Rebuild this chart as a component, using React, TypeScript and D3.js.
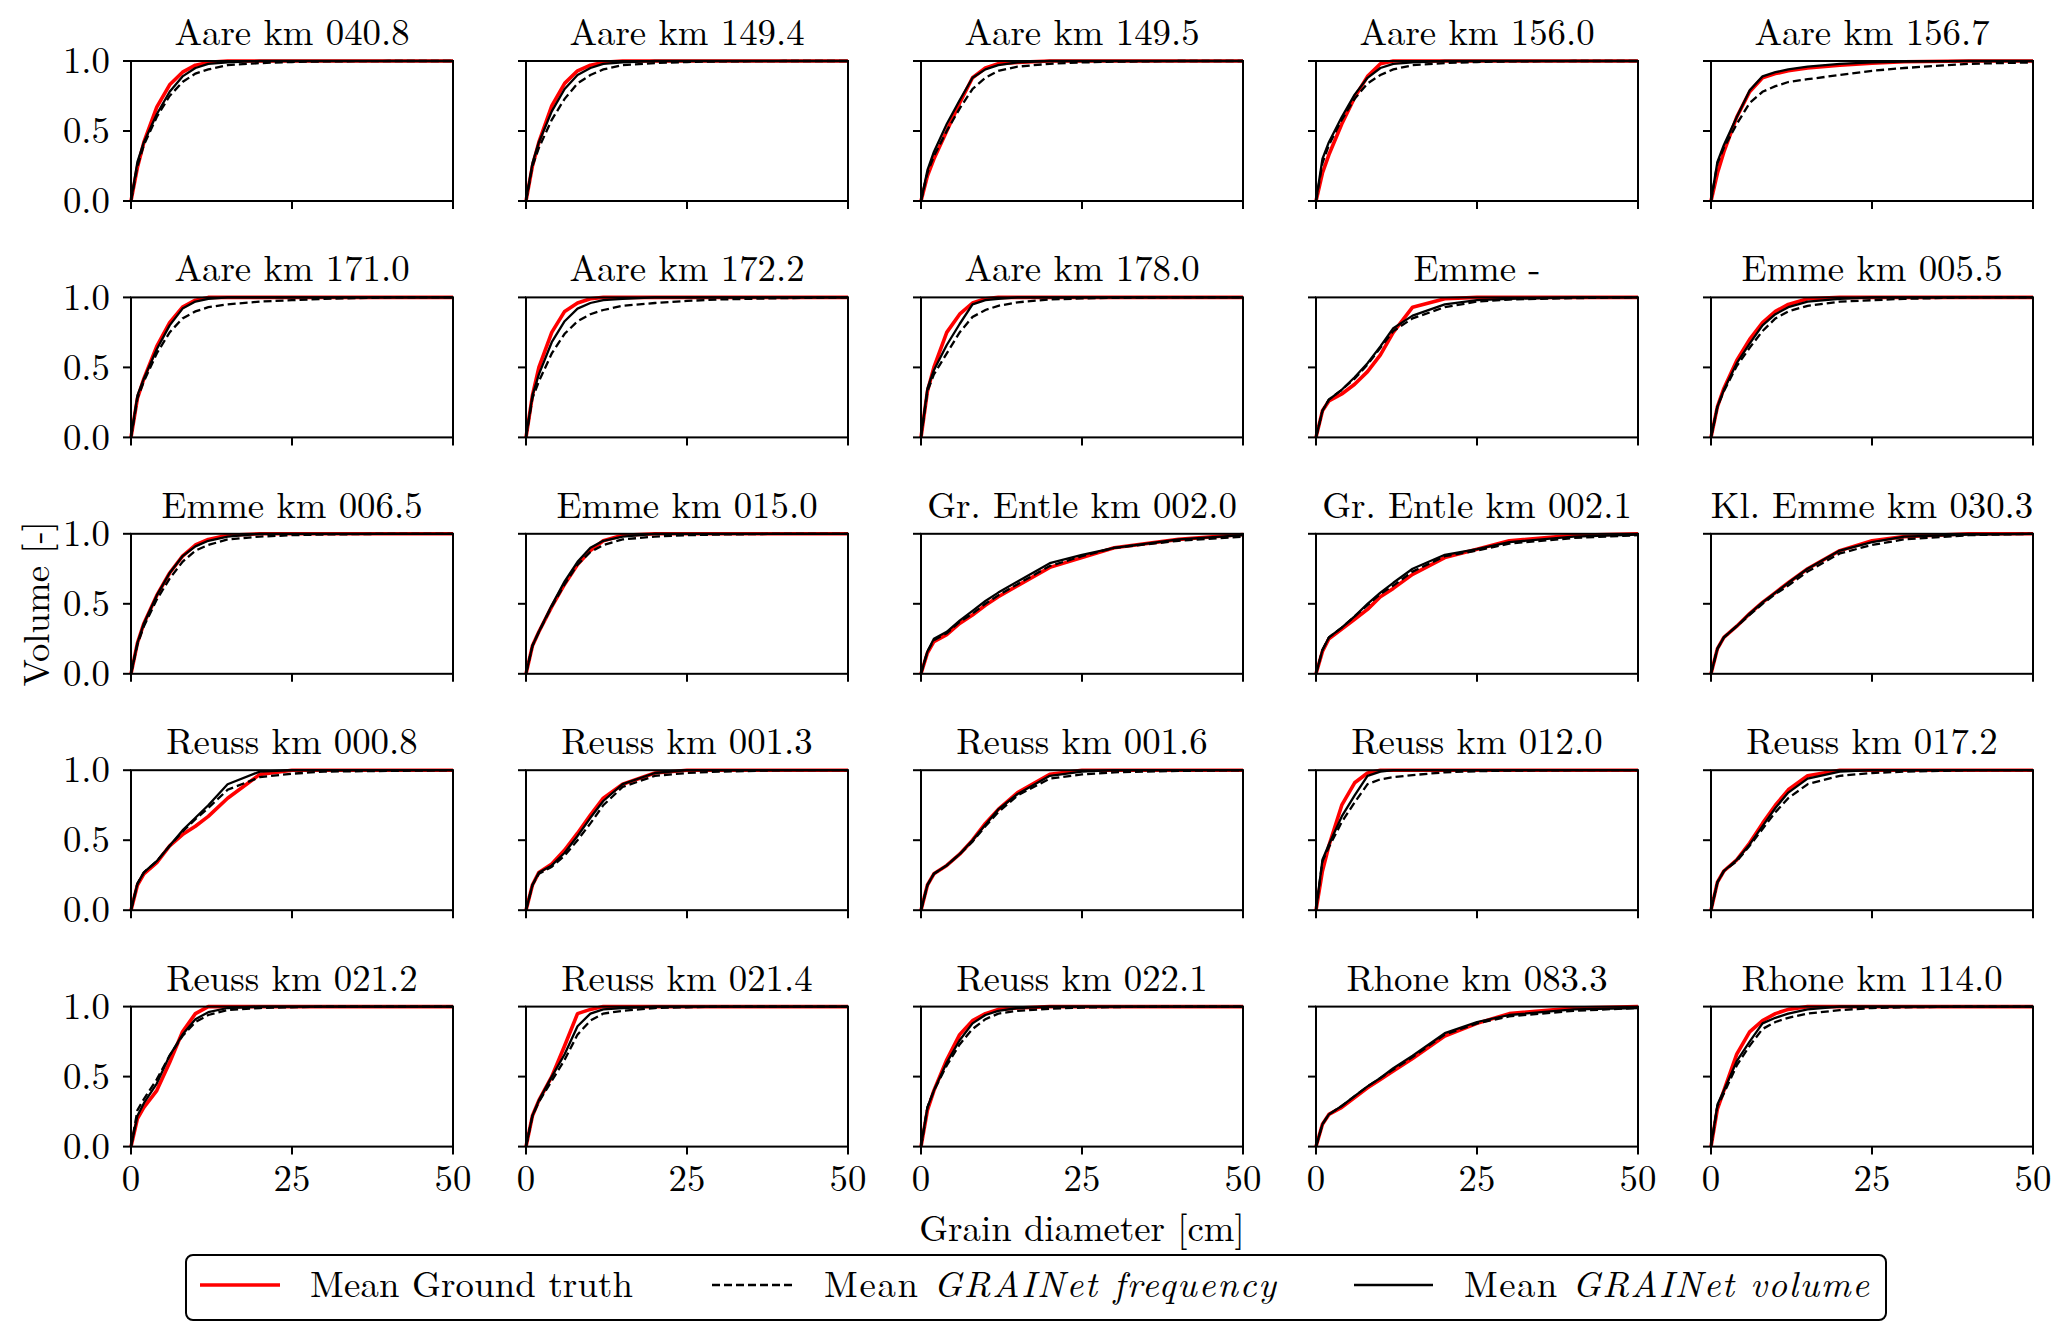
import React from "react";
import * as d3 from "d3";

// station names, one per panel (row by row)
const stations = [
  "Aare km 040.8", "Aare km 149.4", "Aare km 149.5", "Aare km 156.0", "Aare km 156.7",
  "Aare km 171.0", "Aare km 172.2", "Aare km 178.0", "Emme -", "Emme km 005.5",
  "Emme km 006.5", "Emme km 015.0", "Gr. Entle km 002.0", "Gr. Entle km 002.1", "Kl. Emme km 030.3",
  "Reuss km 000.8", "Reuss km 001.3", "Reuss km 001.6", "Reuss km 012.0", "Reuss km 017.2",
  "Reuss km 021.2", "Reuss km 021.4", "Reuss km 022.1", "Rhone km 083.3", "Rhone km 114.0",
];

// grain diameter bins [cm]
const grainSizes = [0, 1, 2, 4, 6, 8, 10, 12, 15, 20, 25, 30, 40, 50];

const groundTruth = [
  [0, 0.24, 0.42, 0.67, 0.83, 0.92, 0.97, 0.99, 1, 1, 1, 1, 1, 1],
  [0, 0.25, 0.42, 0.68, 0.84, 0.93, 0.97, 0.99, 1, 1, 1, 1, 1, 1],
  [0, 0.18, 0.3, 0.5, 0.7, 0.88, 0.95, 0.98, 0.99, 1, 1, 1, 1, 1],
  [0, 0.2, 0.33, 0.55, 0.74, 0.89, 0.98, 1, 1, 1, 1, 1, 1, 1],
  [0, 0.2, 0.35, 0.6, 0.78, 0.88, 0.91, 0.93, 0.95, 0.97, 0.985, 0.995, 1, 1],
  [0, 0.28, 0.42, 0.65, 0.82, 0.93, 0.98, 1, 1, 1, 1, 1, 1, 1],
  [0, 0.3, 0.5, 0.75, 0.9, 0.96, 0.99, 1, 1, 1, 1, 1, 1, 1],
  [0, 0.33, 0.5, 0.75, 0.88, 0.96, 0.99, 1, 1, 1, 1, 1, 1, 1],
  [0, 0.19, 0.26, 0.31, 0.38, 0.47, 0.59, 0.75, 0.93, 0.99, 1, 1, 1, 1],
  [0, 0.22, 0.35, 0.55, 0.7, 0.82, 0.9, 0.95, 0.99, 1, 1, 1, 1, 1],
  [0, 0.22, 0.36, 0.56, 0.72, 0.84, 0.92, 0.96, 0.99, 1, 1, 1, 1, 1],
  [0, 0.2, 0.3, 0.48, 0.64, 0.78, 0.88, 0.95, 0.99, 1, 1, 1, 1, 1],
  [0, 0.15, 0.23, 0.28, 0.36, 0.42, 0.49, 0.55, 0.63, 0.76, 0.83, 0.9, 0.96, 0.995],
  [0, 0.16, 0.25, 0.32, 0.39, 0.46, 0.55, 0.61, 0.71, 0.83, 0.89, 0.95, 0.99, 1],
  [0, 0.18, 0.26, 0.34, 0.43, 0.51, 0.58, 0.65, 0.75, 0.88, 0.95, 0.98, 1, 1],
  [0, 0.18, 0.26, 0.34, 0.46, 0.54, 0.6, 0.67, 0.8, 0.97, 1, 1, 1, 1],
  [0, 0.18, 0.27, 0.33, 0.43, 0.55, 0.68, 0.8, 0.9, 0.98, 1, 1, 1, 1],
  [0, 0.18, 0.26, 0.32, 0.4, 0.5, 0.62, 0.72, 0.84, 0.97, 1, 1, 1, 1],
  [0, 0.28, 0.46, 0.75, 0.91, 0.98, 1, 1, 1, 1, 1, 1, 1, 1],
  [0, 0.2, 0.28, 0.36, 0.48, 0.62, 0.75, 0.86, 0.96, 1, 1, 1, 1, 1],
  [0, 0.2, 0.28, 0.4, 0.6, 0.82, 0.95, 1, 1, 1, 1, 1, 1, 1],
  [0, 0.22, 0.33, 0.5, 0.72, 0.95, 0.98, 1, 1, 1, 1, 1, 1, 1],
  [0, 0.26, 0.4, 0.62, 0.8, 0.9, 0.95, 0.98, 0.99, 1, 1, 1, 1, 1],
  [0, 0.16, 0.23, 0.28, 0.35, 0.42, 0.48, 0.54, 0.63, 0.79, 0.88, 0.95, 0.99, 1],
  [0, 0.27, 0.4, 0.66, 0.82, 0.9, 0.95, 0.98, 1, 1, 1, 1, 1, 1],
];

const grainetFrequency = [
  [0, 0.25, 0.4, 0.6, 0.75, 0.85, 0.91, 0.94, 0.97, 0.985, 0.993, 0.997, 1, 1],
  [0, 0.25, 0.38, 0.58, 0.73, 0.84, 0.9, 0.94, 0.97, 0.985, 0.993, 0.997, 1, 1],
  [0, 0.2, 0.32, 0.5, 0.66, 0.8, 0.88, 0.93, 0.96, 0.98, 0.99, 0.995, 1, 1],
  [0, 0.27, 0.4, 0.58, 0.73, 0.84, 0.9, 0.94, 0.97, 0.985, 0.993, 0.997, 1, 1],
  [0, 0.27, 0.38, 0.55, 0.7, 0.78, 0.82, 0.85, 0.87, 0.9, 0.93, 0.95, 0.98, 0.99],
  [0, 0.28, 0.4, 0.6, 0.75, 0.85, 0.9, 0.93, 0.95, 0.97, 0.98, 0.99, 1, 1],
  [0, 0.28, 0.4, 0.6, 0.74, 0.83, 0.88, 0.91, 0.94, 0.96, 0.975, 0.985, 0.995, 1],
  [0, 0.33, 0.45, 0.6, 0.75, 0.86, 0.91, 0.94, 0.965, 0.985, 0.993, 0.997, 1, 1],
  [0, 0.19, 0.27, 0.34, 0.42, 0.52, 0.64, 0.76, 0.85, 0.93, 0.97, 0.985, 0.995, 1],
  [0, 0.22, 0.33, 0.51, 0.64, 0.76, 0.85, 0.9, 0.94, 0.97, 0.98, 0.99, 1, 1],
  [0, 0.21, 0.34, 0.53, 0.68, 0.8, 0.88, 0.92, 0.96, 0.98, 0.99, 0.995, 1, 1],
  [0, 0.2, 0.3, 0.48, 0.64, 0.78, 0.87, 0.92, 0.96, 0.98, 0.99, 0.995, 1, 1],
  [0, 0.16, 0.24, 0.29, 0.37, 0.43, 0.5, 0.56, 0.64, 0.77, 0.84, 0.9, 0.95, 0.98],
  [0, 0.17, 0.26, 0.33, 0.41, 0.49, 0.57, 0.63, 0.73, 0.84, 0.88, 0.93, 0.97, 0.99],
  [0, 0.18, 0.26, 0.34, 0.42, 0.5, 0.57, 0.63, 0.73, 0.86, 0.92, 0.96, 0.99, 1],
  [0, 0.19, 0.27, 0.35, 0.46, 0.56, 0.65, 0.73, 0.86, 0.95, 0.975, 0.99, 0.995, 1],
  [0, 0.18, 0.26, 0.31, 0.39, 0.5, 0.62, 0.75, 0.88, 0.96, 0.98, 0.99, 1, 1],
  [0, 0.18, 0.26, 0.32, 0.4, 0.49, 0.6, 0.7, 0.82, 0.94, 0.97, 0.985, 0.995, 1],
  [0, 0.35, 0.45, 0.63, 0.77, 0.9, 0.935, 0.95, 0.965, 0.985, 0.993, 0.997, 1, 1],
  [0, 0.2, 0.28, 0.35, 0.46, 0.58, 0.7, 0.8, 0.9, 0.96, 0.98, 0.99, 1, 1],
  [0, 0.26, 0.34, 0.48, 0.65, 0.79, 0.89, 0.94, 0.975, 0.99, 0.995, 1, 1, 1],
  [0, 0.22, 0.32, 0.47, 0.62, 0.8, 0.9, 0.95, 0.97, 0.99, 0.995, 1, 1, 1],
  [0, 0.28, 0.4, 0.58, 0.73, 0.84, 0.91, 0.95, 0.97, 0.985, 0.993, 0.997, 1, 1],
  [0, 0.16, 0.23, 0.29, 0.36, 0.43, 0.49, 0.55, 0.64, 0.8, 0.88, 0.93, 0.97, 0.99],
  [0, 0.29, 0.38, 0.58, 0.72, 0.84, 0.89, 0.92, 0.95, 0.975, 0.99, 0.995, 1, 1],
];

const grainetVolume = [
  [0, 0.28, 0.42, 0.62, 0.78, 0.89, 0.95, 0.98, 0.99, 1, 1, 1, 1, 1],
  [0, 0.27, 0.42, 0.64, 0.8, 0.9, 0.95, 0.98, 0.99, 1, 1, 1, 1, 1],
  [0, 0.22, 0.35, 0.55, 0.72, 0.88, 0.94, 0.97, 0.99, 1, 1, 1, 1, 1],
  [0, 0.3, 0.42, 0.6, 0.76, 0.88, 0.95, 0.98, 0.99, 1, 1, 1, 1, 1],
  [0, 0.28, 0.4, 0.6, 0.79, 0.89, 0.92, 0.94, 0.96, 0.98, 0.99, 0.995, 1, 1],
  [0, 0.3, 0.42, 0.63, 0.8, 0.92, 0.97, 0.99, 1, 1, 1, 1, 1, 1],
  [0, 0.3, 0.45, 0.68, 0.83, 0.92, 0.96, 0.98, 0.99, 1, 1, 1, 1, 1],
  [0, 0.35, 0.48, 0.66, 0.81, 0.95, 0.98, 0.99, 1, 1, 1, 1, 1, 1],
  [0, 0.19, 0.27, 0.34, 0.43, 0.53, 0.65, 0.78, 0.87, 0.95, 0.98, 0.99, 1, 1],
  [0, 0.22, 0.34, 0.53, 0.67, 0.8, 0.88, 0.93, 0.97, 0.99, 1, 1, 1, 1],
  [0, 0.22, 0.36, 0.56, 0.72, 0.84, 0.91, 0.95, 0.98, 1, 1, 1, 1, 1],
  [0, 0.2, 0.3, 0.49, 0.66, 0.8, 0.9, 0.95, 0.98, 1, 1, 1, 1, 1],
  [0, 0.16, 0.25, 0.3, 0.38, 0.45, 0.52, 0.58, 0.66, 0.79, 0.85, 0.9, 0.96, 0.99],
  [0, 0.17, 0.26, 0.33, 0.41, 0.5, 0.58, 0.65, 0.75, 0.85, 0.89, 0.94, 0.98, 0.995],
  [0, 0.18, 0.26, 0.34, 0.43, 0.51, 0.58, 0.65, 0.75, 0.88, 0.94, 0.98, 0.995, 1],
  [0, 0.19, 0.27, 0.35, 0.46, 0.57, 0.66, 0.75, 0.9, 0.99, 1, 1, 1, 1],
  [0, 0.18, 0.27, 0.32, 0.41, 0.53, 0.66, 0.78, 0.9, 0.98, 1, 1, 1, 1],
  [0, 0.18, 0.26, 0.32, 0.4, 0.5, 0.61, 0.72, 0.83, 0.96, 0.99, 1, 1, 1],
  [0, 0.36, 0.47, 0.67, 0.82, 0.96, 0.99, 1, 1, 1, 1, 1, 1, 1],
  [0, 0.2, 0.28, 0.36, 0.47, 0.6, 0.73, 0.84, 0.94, 0.99, 1, 1, 1, 1],
  [0, 0.22, 0.31, 0.45, 0.65, 0.8, 0.91, 0.96, 0.99, 1, 1, 1, 1, 1],
  [0, 0.22, 0.33, 0.5, 0.66, 0.86, 0.95, 0.98, 0.99, 1, 1, 1, 1, 1],
  [0, 0.28, 0.4, 0.6, 0.76, 0.88, 0.94, 0.97, 0.99, 1, 1, 1, 1, 1],
  [0, 0.16, 0.23, 0.29, 0.36, 0.43, 0.49, 0.56, 0.65, 0.81, 0.89, 0.94, 0.98, 0.99],
  [0, 0.3, 0.4, 0.61, 0.75, 0.88, 0.92, 0.95, 0.98, 1, 1, 1, 1, 1],
];

const xTicks = [0, 25, 50];
const yTicks = [0, 0.5, 1];

const W = 2067;
const H = 1340;
const FONT = '"Latin Modern Roman", "Liberation Serif", serif';
const FS = 36.8;
const COLS = 5;
const ROWS = 5;
const LEFT = 131;
const TOP = 61;
const COL_STEP = 395;
const ROW_STEP = 236.4;
const PW = 322;
const PH = 140;
const TICK = 8;

const x = d3.scaleLinear().domain([0, 50]).range([0, PW]);
const y = d3.scaleLinear().domain([0, 1]).range([PH, 0]);
const line = d3
  .line<number>()
  .x((_, i) => x(grainSizes[i]))
  .y((d) => y(d));
const fmtY = d3.format(".1f");

const txt = { fontFamily: FONT, fontSize: FS };

const Panel = ({ idx }: { idx: number }) => {
  const r = Math.floor(idx / COLS);
  const c = idx % COLS;
  const tx = LEFT + c * COL_STEP;
  const ty = TOP + r * ROW_STEP;
  return (
    <g transform={`translate(${tx},${ty})`}>
      <text x={PW / 2} y={-16} textAnchor="middle" style={txt}>
        {stations[idx]}
      </text>
      <path d={line(groundTruth[idx])!} fill="none" stroke="#ff0000" strokeWidth={3.6} strokeLinejoin="round" />
      <path d={line(grainetFrequency[idx])!} fill="none" stroke="#000" strokeWidth={2.3} strokeDasharray="8,4" />
      <path d={line(grainetVolume[idx])!} fill="none" stroke="#000" strokeWidth={2.3} strokeLinejoin="round" />
      <rect x={0} y={0} width={PW} height={PH} fill="none" stroke="#000" strokeWidth={2} />
      {xTicks.map((t) => (
        <g key={`x${t}`} transform={`translate(${x(t)},${PH})`}>
          <line y2={TICK} stroke="#000" strokeWidth={2} />
          {r === ROWS - 1 && (
            <text y={44} textAnchor="middle" style={txt}>
              {t}
            </text>
          )}
        </g>
      ))}
      {yTicks.map((t) => (
        <g key={`y${t}`} transform={`translate(0,${y(t)})`}>
          <line x2={-TICK} stroke="#000" strokeWidth={2} />
          {c === 0 && (
            <text x={-21} dy="0.33em" textAnchor="end" style={txt}>
              {fmtY(t)}
            </text>
          )}
        </g>
      ))}
    </g>
  );
};

const Legend = () => {
  const ly = 1285;
  return (
    <g>
      <rect x={186} y={1255} width={1700} height={65} rx={7} fill="#fff" stroke="#000" strokeWidth={2} />
      <line x1={200} x2={280} y1={ly} y2={ly} stroke="#ff0000" strokeWidth={3.6} />
      <text x={310} y={1297} style={txt} textLength={323} lengthAdjust="spacing">
        Mean Ground truth
      </text>
      <line x1={712} x2={792} y1={ly} y2={ly} stroke="#000" strokeWidth={2.3} strokeDasharray="8,4" />
      <text x={824} y={1297} style={txt} textLength={452} lengthAdjust="spacing">
        Mean <tspan fontStyle="italic">GRAINet frequency</tspan>
      </text>
      <line x1={1354} x2={1433} y1={ly} y2={ly} stroke="#000" strokeWidth={2.3} />
      <text x={1464} y={1297} style={txt} textLength={405} lengthAdjust="spacing">
        Mean <tspan fontStyle="italic">GRAINet volume</tspan>
      </text>
    </g>
  );
};

export default function App() {
  const gridCenterX = LEFT + ((COLS - 1) * COL_STEP + PW) / 2;
  const gridCenterY = TOP + ((ROWS - 1) * ROW_STEP + PH) / 2;
  return (
    <svg
      width={W}
      height={H}
      viewBox={`0 0 ${W} ${H}`}
      style={{ position: "absolute", left: 0, top: 0, background: "#fff", fontFamily: FONT }}
    >
      <rect width={W} height={H} fill="#fff" />
      {stations.map((_, i) => (
        <Panel key={i} idx={i} />
      ))}
      <text x={gridCenterX} y={1241} textAnchor="middle" style={txt}>
        Grain diameter [cm]
      </text>
      <text transform={`translate(49,${gridCenterY}) rotate(-90)`} textAnchor="middle" style={txt}>
        Volume [-]
      </text>
      <Legend />
    </svg>
  );
}
